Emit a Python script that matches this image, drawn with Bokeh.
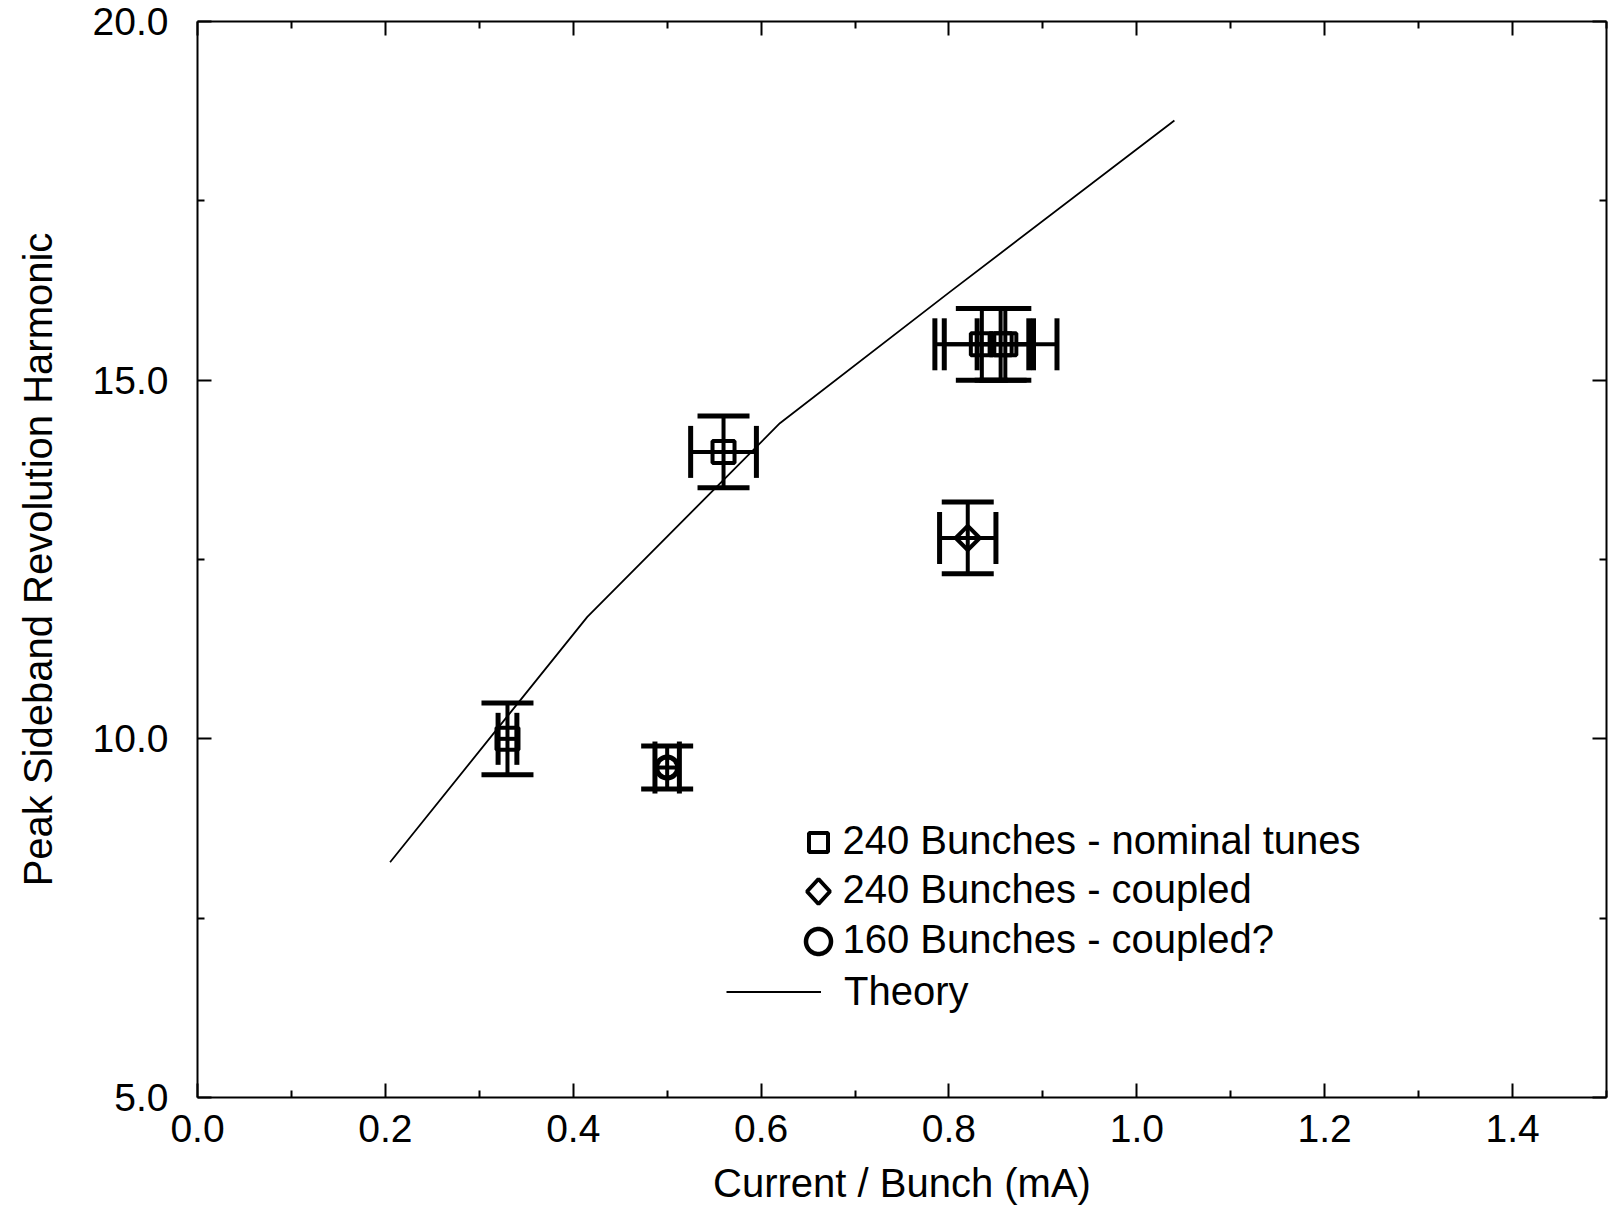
from bokeh.plotting import figure
from bokeh.models import (ColumnDataSource, Whisker, TeeHead, Range1d, LinearAxis,
                          FixedTicker, Legend, LegendItem, PrintfTickFormatter,
                          CustomLabelingPolicy, Label, PolyAnnotation)
from bokeh.embed import file_html
from bokeh.resources import INLINE
import numpy as np

# 240 bunches, nominal tunes
nom_current = [0.33, 0.56, 0.835, 0.855, 0.86]
nom_harmonic = [10.0, 14.0, 15.5, 15.5, 15.5]
nom_current_err = [0.01, 0.035, 0.05, 0.06, 0.03]
nom_harmonic_err = [0.5, 0.5, 0.5, 0.5, 0.5]

# 240 bunches, coupled
cpl_current = [0.82]
cpl_harmonic = [12.8]
cpl_current_err = [0.03]
cpl_harmonic_err = [0.5]

# 160 bunches, coupled?
b160_current = [0.50]
b160_harmonic = [9.6]
b160_current_err = [0.013]
b160_harmonic_err = [0.3]

# theory curve
theory_current = [0.205, 0.415, 0.62, 0.80, 1.04]
theory_harmonic = [8.28, 11.70, 14.40, 16.22, 18.62]

x_major = [0.0, 0.2, 0.4, 0.6, 0.8, 1.0, 1.2, 1.4]
x_minor = [0.1, 0.3, 0.5, 0.7, 0.9, 1.1, 1.3, 1.5]
y_major = [5.0, 10.0, 15.0, 20.0]
y_minor = [7.5, 12.5, 17.5]

legend_labels = ["240 Bunches - nominal tunes", "240 Bunches - coupled",
                 "160 Bunches - coupled?"]

FONT = "Liberation Sans"
INK = "#000000"

p = figure(width=1610, height=1207,
           x_range=Range1d(0, 1.5), y_range=Range1d(5, 20),
           output_backend="svg", toolbar_location=None,
           min_border_left=197, min_border_right=0,
           min_border_top=21, min_border_bottom=110)
p.grid.visible = False
p.outline_line_color = None
p.background_fill_color = "white"
p.border_fill_color = "white"


def style_axis(ax, ticks, minor, labels=True):
    ax.ticker = FixedTicker(ticks=ticks, minor_ticks=minor)
    ax.axis_line_color = INK
    ax.axis_line_width = 2
    ax.major_tick_line_color = INK
    ax.major_tick_line_width = 2
    ax.minor_tick_line_color = INK
    ax.minor_tick_line_width = 2
    ax.major_tick_in = 14
    ax.major_tick_out = 0
    ax.minor_tick_in = 7
    ax.minor_tick_out = 0
    if labels:
        ax.formatter = PrintfTickFormatter(format="%.1f")
        ax.major_label_text_font = FONT
        ax.major_label_text_font_size = "39px"
        ax.major_label_text_color = INK
        ax.axis_label_text_font = FONT
        ax.axis_label_text_font_size = "40px"
        ax.axis_label_text_font_style = "normal"
        ax.axis_label_text_color = INK
    else:
        # mirrored frame side: ticks only, no labels
        ax.major_label_policy = CustomLabelingPolicy(code="return []")
        ax.major_label_text_font_size = "1px"
        ax.major_label_standoff = 0


xb = p.xaxis[0]
style_axis(xb, x_major, x_minor)
xb.axis_label = "Current / Bunch (mA)"
xb.major_label_standoff = 17
xb.axis_label_standoff = 16

yl = p.yaxis[0]
style_axis(yl, y_major, y_minor)
yl.axis_label = "Peak Sideband Revolution Harmonic"
yl.major_label_standoff = 29
yl.axis_label_standoff = 30

top_ax = LinearAxis()
style_axis(top_ax, x_major, x_minor, labels=False)
p.add_layout(top_ax, "above")

right_ax = LinearAxis()
style_axis(right_ax, y_major, y_minor, labels=False)
p.add_layout(right_ax, "right")


def add_errors(xs, ys, xerr, yerr):
    xs = np.asarray(xs); ys = np.asarray(ys)
    xerr = np.asarray(xerr); yerr = np.asarray(yerr)
    src = ColumnDataSource(dict(x=xs, y=ys,
                                xlo=xs - xerr, xhi=xs + xerr,
                                ylo=ys - yerr, yhi=ys + yerr))
    head = dict(size=52, line_width=5, line_color=INK)
    p.add_layout(Whisker(base="x", lower="ylo", upper="yhi", dimension="height",
                         source=src, line_width=4, line_color=INK,
                         lower_head=TeeHead(**head), upper_head=TeeHead(**head)))
    p.add_layout(Whisker(base="y", lower="xlo", upper="xhi", dimension="width",
                         source=src, line_width=4, line_color=INK,
                         lower_head=TeeHead(**head), upper_head=TeeHead(**head)))
    return src


nom_src = add_errors(nom_current, nom_harmonic, nom_current_err, nom_harmonic_err)
cpl_src = add_errors(cpl_current, cpl_harmonic, cpl_current_err, cpl_harmonic_err)
b160_src = add_errors(b160_current, b160_harmonic, b160_current_err, b160_harmonic_err)

theory_r = p.line(theory_current, theory_harmonic, line_color=INK, line_width=1.8)

p.scatter("x", "y", source=nom_src, marker="square", size=22,
          fill_color=None, line_color=INK, line_width=4)
p.scatter("x", "y", source=cpl_src, marker="square", angle=np.pi / 4, size=17,
          fill_color=None, line_color=INK, line_width=4)
p.scatter("x", "y", source=b160_src, marker="circle", size=21,
          fill_color=None, line_color=INK, line_width=5)

# Key: symbol outlines drawn in screen space, left of their labels
key_x = 621          # symbol centre, px from the frame's left edge
key_text_x = 645     # label start
key_rows = [255, 206, 156]   # symbol centres, px above the frame's bottom edge

sq = 9.5
square_xs = [key_x - sq, key_x + sq, key_x + sq, key_x - sq]
square_ys = [key_rows[0] - sq, key_rows[0] - sq, key_rows[0] + sq, key_rows[0] + sq]
dm_w, dm_h = 11.5, 12.5
diamond_xs = [key_x, key_x + dm_w, key_x, key_x - dm_w]
diamond_ys = [key_rows[1] + dm_h, key_rows[1], key_rows[1] - dm_h, key_rows[1]]
theta = np.linspace(0, 2 * np.pi, 48, endpoint=False)
circle_xs = list(key_x + 12.5 * np.cos(theta))
circle_ys = list(key_rows[2] + 12.5 * np.sin(theta))

for xs_, ys_, lw in [(square_xs, square_ys, 4), (diamond_xs, diamond_ys, 4),
                     (circle_xs, circle_ys, 4.5)]:
    p.add_layout(PolyAnnotation(xs=xs_, ys=ys_, xs_units="screen", ys_units="screen",
                                fill_alpha=0, line_color=INK, line_alpha=1.0,
                                line_width=lw))

for text, row in zip(legend_labels, key_rows):
    p.add_layout(Label(x=key_text_x, y=row + 3, x_units="screen", y_units="screen",
                       text=text, text_font=FONT, text_font_size="40px",
                       text_color=INK, text_align="left", text_baseline="middle"))

line_legend = Legend(items=[LegendItem(label="Theory", renderers=[theory_r])],
                     location=(529, 78), glyph_width=95, glyph_height=55,
                     label_standoff=23, padding=0, margin=0, border_line_color=None,
                     background_fill_alpha=0, label_text_font=FONT,
                     label_text_font_size="40px", label_text_color=INK)
p.add_layout(line_legend)

open("out.html", "w").write(file_html(p, INLINE))
